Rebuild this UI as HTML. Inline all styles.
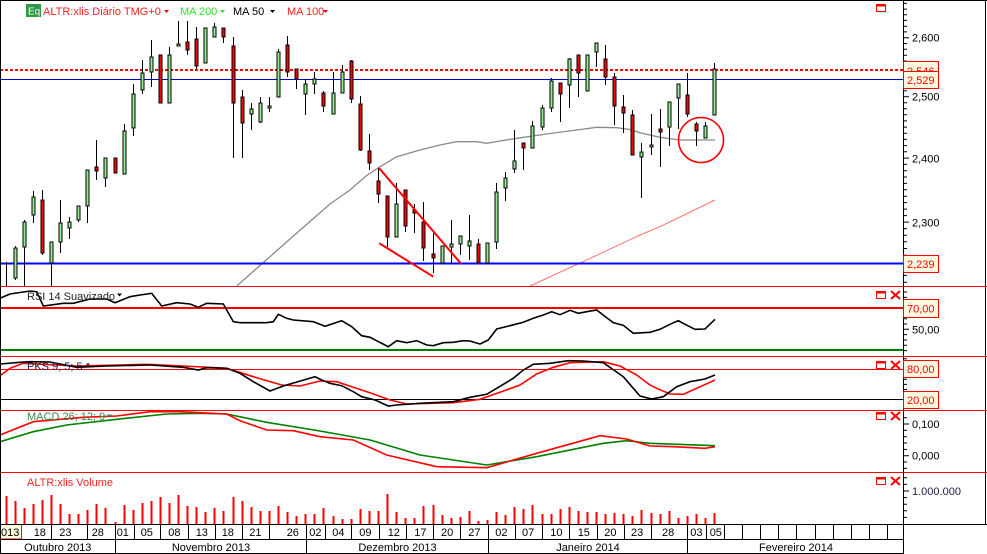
<!DOCTYPE html>
<html><head><meta charset="utf-8">
<style>html,body{margin:0;padding:0;background:#fff}svg{display:block}</style>
</head><body>
<svg xmlns="http://www.w3.org/2000/svg" width="987" height="554" viewBox="0 0 987 554" font-family="'Liberation Sans', Arial, sans-serif" font-size="11">
<rect width="987" height="554" fill="#fff"/>

<!-- MA lines -->
<polyline points="530,286 583,261.7 640,235 660,226.7 715,200" stroke="#ff7070" stroke-width="1" fill="none"/>
<polyline points="236.7,286 260,265.5 290,239 310,221.5 330,204 350,190 366,176 380,166.7 396.7,156.7 420,150 440,145 456.7,141.7 476.7,141.7 486.7,143.3 500,141 516.7,138.3 546.7,134 576.7,130 596.7,127.3 616.7,127.7 630,129.5 640,132.7 660,137.3 680,140 715,140" stroke="#8a8a8a" stroke-width="1.3" fill="none"/>

<!-- horizontal lines -->
<line x1="0" y1="70" x2="903" y2="70" stroke="#f00" stroke-width="2" stroke-dasharray="3,2"/>
<line x1="0" y1="79.5" x2="903" y2="79.5" stroke="#0000cc" stroke-width="1"/>
<line x1="0" y1="263.5" x2="903" y2="263.5" stroke="#0000ff" stroke-width="2"/>

<!-- wicks -->
<path stroke="#000" stroke-width="1" fill="none" d="M6.5 262V286M15.5 246V280M24.5 220V286M33.5 191V223M42.5 190V255M51.5 242V286M60.5 200V253M69.5 217V239M78.5 206V222M87.5 170V223M96.5 140V180M105.5 158V187M115.5 158V173M124.5 124V174M133.5 84V136M142.5 60V94M151.5 40V87M160.5 55V103M169.5 47V103M178.5 21V46M187.5 21V55M196.5 27V69M205.5 28V63M214.5 23V37M223.5 28V43M233.5 37V158M242.5 90V158M251.5 103V130M260.5 97V123M269.5 97V112M278.5 49V97M287.5 36V77M296.5 69V89M305.5 79V115M314.5 72V94M323.5 91V112M333.5 72V114M342.5 65V93M351.5 60V103M360.5 96V151M369.5 134V170M378.5 168V203M387.5 196V247M396.5 183V237M405.5 190V232M414.5 204V233M423.5 202V261M433.5 233V273M442.5 246V263M451.5 220V263M460.5 236V255M469.5 215V260M478.5 239V263M487.5 243V263M496.5 183V249M505.5 172V201M514.5 130V173M523.5 143V170M532.5 121V148M542.5 105V130M551.5 78V112M560.5 83V122M569.5 58V108M578.5 55V97M587.5 55V91M596.5 43V67M605.5 45V85M614.5 73V125M623.5 95V133M632.5 110V155M641.5 143V198M651.5 114V155M660.5 109V167M669.5 102V146M678.5 84V129M687.5 73V117M696.5 122V146M705.5 122V138M714.5 63V115"/>

<!-- green bodies -->
<g fill="#90ee90" stroke="#000" stroke-width="1">
<rect x="14" y="248" width="3" height="30"/><rect x="23" y="222" width="3" height="25"/><rect x="32" y="197" width="3" height="18"/><rect x="50" y="242" width="3" height="21"/><rect x="59" y="223" width="3" height="19"/><rect x="68" y="222" width="3" height="6"/><rect x="77" y="206" width="3" height="14"/><rect x="86" y="170" width="3" height="36"/><rect x="104" y="158" width="3" height="20"/><rect x="123" y="131" width="3" height="43"/><rect x="132" y="94" width="3" height="34"/><rect x="141" y="73" width="3" height="17"/><rect x="150" y="57" width="3" height="15"/><rect x="168" y="55" width="3" height="48"/><rect x="177" y="44" width="3" height="2"/><rect x="204" y="28" width="3" height="35"/><rect x="213" y="27" width="3" height="10"/><rect x="250" y="109" width="3" height="5"/><rect x="259" y="103" width="3" height="19"/><rect x="268" y="106" width="3" height="2"/><rect x="277" y="52" width="3" height="45"/><rect x="304" y="84" width="3" height="10"/><rect x="313" y="79" width="3" height="5"/><rect x="332" y="93" width="3" height="21"/><rect x="341" y="72" width="3" height="21"/><rect x="395" y="204" width="3" height="33"/><rect x="441" y="246" width="3" height="17"/><rect x="450" y="244" width="3" height="3"/><rect x="459" y="236" width="3" height="8"/><rect x="468" y="241" width="3" height="5"/><rect x="486" y="243" width="3" height="20"/><rect x="495" y="192" width="3" height="50"/><rect x="504" y="178" width="3" height="10"/><rect x="513" y="161" width="3" height="8"/><rect x="531" y="126" width="3" height="22"/><rect x="541" y="108" width="3" height="19"/><rect x="550" y="81" width="3" height="27"/><rect x="568" y="59" width="3" height="26"/><rect x="586" y="55" width="3" height="36"/><rect x="595" y="43" width="3" height="9"/><rect x="640" y="152" width="3" height="5"/><rect x="650" y="145" width="3" height="2"/><rect x="668" y="102" width="3" height="25"/><rect x="677" y="84" width="3" height="14"/><rect x="704" y="126" width="3" height="12"/><rect x="713" y="69" width="3" height="46"/>
</g>
<!-- red bodies -->
<g fill="#ff0000" stroke="#000" stroke-width="1">
<rect x="41" y="200" width="3" height="53"/><rect x="95" y="167" width="3" height="4"/><rect x="114" y="158" width="3" height="15"/><rect x="159" y="55" width="3" height="48"/><rect x="186" y="42" width="3" height="8"/><rect x="195" y="39" width="3" height="27"/><rect x="222" y="28" width="3" height="9"/><rect x="232" y="46" width="3" height="57"/><rect x="241" y="97" width="3" height="26"/><rect x="286" y="45" width="3" height="27"/><rect x="295" y="69" width="3" height="10"/><rect x="322" y="93" width="3" height="13"/><rect x="350" y="61" width="3" height="38"/><rect x="359" y="104" width="3" height="46"/><rect x="368" y="151" width="3" height="12"/><rect x="377" y="181" width="3" height="13"/><rect x="386" y="196" width="3" height="41"/><rect x="404" y="190" width="3" height="36"/><rect x="413" y="210" width="3" height="3"/><rect x="422" y="222" width="3" height="26"/><rect x="432" y="254" width="3" height="4"/><rect x="477" y="244" width="3" height="19"/><rect x="522" y="143" width="3" height="5"/><rect x="559" y="83" width="3" height="11"/><rect x="577" y="55" width="3" height="18"/><rect x="604" y="59" width="3" height="18"/><rect x="613" y="77" width="3" height="29"/><rect x="622" y="107" width="3" height="6"/><rect x="631" y="115" width="3" height="40"/><rect x="659" y="129" width="3" height="3"/><rect x="686" y="95" width="3" height="19"/><rect x="695" y="124" width="3" height="7"/>
</g>

<!-- annotations -->
<line x1="379" y1="168" x2="460.7" y2="263.3" stroke="#f00" stroke-width="2"/>
<line x1="379.3" y1="243.3" x2="433.3" y2="276.7" stroke="#f00" stroke-width="2"/>
<circle cx="701" cy="140" r="22.5" fill="none" stroke="#f00" stroke-width="1.6"/>

<!-- legend -->
<rect x="26" y="4" width="15" height="13" fill="#2e9a45"/>
<text x="28" y="14.5" fill="#fff" font-size="10">Eq</text>
<text x="43" y="15" fill="#ff2020">ALTR:xlis Diário TMG+0</text>
<polygon points="164,10 169,10 166.5,13" fill="#f00"/>
<text x="180" y="15" fill="#33dd33">MA 200</text>
<polygon points="220,10 225,10 222.5,13" fill="#33dd33"/>
<text x="233" y="15" fill="#000">MA 50</text>
<polygon points="270,10 275,10 272.5,13" fill="#000"/>
<text x="287" y="15" fill="#ff2020">MA 100</text>
<polygon points="323,10 328,10 325.5,13" fill="#f00"/>

<!-- panel separators -->
<g stroke="#f00" stroke-width="1">
<line x1="0" y1="286.5" x2="987" y2="286.5"/>
<line x1="0" y1="356.5" x2="987" y2="356.5"/>
<line x1="0" y1="410.5" x2="987" y2="410.5"/>
<line x1="0" y1="472.5" x2="987" y2="472.5"/>
</g>

<!-- RSI panel -->
<line x1="0" y1="308" x2="903" y2="308" stroke="#f00" stroke-width="2"/>
<line x1="0" y1="350" x2="903" y2="350" stroke="#008000" stroke-width="2"/>
<polyline fill="none" stroke="#000" stroke-width="1.6" points="0,298.3 10,294 30,291 36.7,291.7 43.3,306 63.3,303.3 73.3,303.3 90,299 106.7,299 115,302.7 130,296.7 140,295 151.7,293.3 161.7,306 176.7,302.7 190,304 198.3,307.3 206.7,303.3 223.3,304 233.3,321.7 240,322.7 266.7,322.7 273.3,321.7 278.3,314.3 286.7,318.3 293.3,320 313.3,321.7 325,326.3 341.7,320.7 351.7,326.7 361.7,335.7 370,337.3 388.3,346.7 396.7,340.7 406.7,342.7 416.7,340.7 426.7,345 433.3,345.7 443.3,342.7 453.3,342.3 463.3,340.7 470,341 480,344 488.3,340 496.7,329 510,325.7 523.3,322.3 533.3,318.3 543.3,315 551.7,311.7 560,314.7 570,310.3 578.3,313.3 586.7,311.7 596.7,310 606.7,317.7 613.3,322.7 623.3,325.3 633.3,333.3 650,332.3 660,329.3 670,324.3 678.3,320.7 685,324.3 695,329.3 705,329 715,319.3"/>
<text x="27" y="300" fill="#222">RSI 14 Suavizado</text>
<polygon points="117,293.5 122,293.5 119.5,296.5" fill="#000"/>

<!-- Stochastic panel -->
<line x1="0" y1="369.5" x2="903" y2="369.5" stroke="#f00" stroke-width="1"/>
<line x1="0" y1="399.5" x2="903" y2="399.5" stroke="#000" stroke-width="1"/>
<polyline fill="none" stroke="#f00" stroke-width="1.6" points="0,375.7 10,368.3 23.3,363.3 76.7,366 146.7,364.3 183.3,366 226.7,368.3 253.3,376.7 281.7,385 300,386 320,381 336.7,381.7 353.3,387.3 370,392.7 390,400 406.7,404 453.3,402.7 480,399.3 500,392.3 520,385 536.7,374 553.3,367.3 570,362.7 603.3,361.7 620,366 636.7,375 650,385 656.7,388.3 670,394 683.3,394.3 715,380"/>
<polyline fill="none" stroke="#000" stroke-width="1.6" points="0,364 20,362.3 30,361.7 50,362 76.7,367.3 106.7,366 150,365 183.3,367.3 198.3,370 206.7,367.7 226.7,368.3 240,373.3 253.3,381.7 270,391 283.3,386 315,376.7 321.7,380 330,383.3 341.7,385.7 353.3,391.7 361.7,396.7 375,400 388.3,406 396.7,405 420,403.3 453.3,401.7 470,397.3 486.7,394.3 496.7,388.3 513.3,378.3 523.3,370 533.3,364.3 550,363.3 568.3,360.7 583.3,361 603.3,362.7 623.3,376.7 633.3,388.3 640,396 651.7,399 663.3,396.7 676.7,386.7 690,381.7 705,379 715,375"/>
<text x="27" y="370" fill="#1a1a4a">PKS 9; 5; 5</text>
<polygon points="86,363.5 90,363.5 88,366.5" fill="#1a1a4a"/>

<!-- MACD panel -->
<polyline fill="none" stroke="#008000" stroke-width="1.6" points="0,441.7 33.3,431.7 66.7,425 116.7,419.3 166.7,414 200,413.3 226.7,414 266.7,422.3 320,431 370,440 420,455 486.7,465 536.7,456.7 603.3,443.3 626.7,440.7 650,443.3 715,445.7"/>
<polyline fill="none" stroke="#f00" stroke-width="1.6" points="0,435 33.3,421.7 83.3,417.3 116.7,416 150,411.7 180,411.7 226.7,414 240,420.7 266.7,430 293.3,430.7 320,436.7 353.3,440 386.7,455 436.7,466.7 486.7,467.7 536.7,453.3 600,435.7 626.7,439 650,446 673.3,446.7 705,448.3 715,446.7"/>
<text x="27" y="420" fill="#3a8a4a">MACD 26; 12; 9</text>
<polygon points="107,414.5 112,414.5 109.5,417.5" fill="#3a8a4a"/>

<!-- Volume panel -->
<path stroke="#f00" stroke-width="2" fill="none" d="M6.5 496V524M15.5 501V524M24.5 508V524M33.5 504V524M42.5 500V524M51.5 495V524M60.5 504V524M69.5 514V524M78.5 514V524M87.5 510V524M96.5 504V524M105.5 508V524M115.5 522V524M124.5 505V524M133.5 510V524M142.5 503V524M151.5 501V524M160.5 497V524M169.5 503V524M178.5 495V524M187.5 506V524M196.5 507V524M205.5 512V524M214.5 508V524M223.5 511V524M233.5 497V524M242.5 501V524M251.5 507V524M260.5 511V524M269.5 511V524M278.5 506V524M287.5 512V524M296.5 516V524M305.5 514V524M314.5 514V524M323.5 508V524M333.5 516V524M342.5 519V524M351.5 519V524M360.5 509V524M369.5 511V524M378.5 511V524M387.5 494V524M396.5 512V524M405.5 518V524M414.5 518V524M423.5 506V524M433.5 505V524M442.5 515V524M451.5 518V524M460.5 517V524M469.5 511V524M478.5 521V524M487.5 520V524M496.5 512V524M505.5 515V524M514.5 507V524M523.5 509V524M532.5 505V524M542.5 514V524M551.5 514V524M560.5 509V524M569.5 507V524M578.5 511V524M587.5 512V524M596.5 512V524M605.5 514V524M614.5 513V524M623.5 514V524M632.5 516V524M641.5 510V524M651.5 513V524M660.5 514V524M669.5 511V524M678.5 518V524M687.5 516V524M696.5 514V524M705.5 518V524M714.5 513V524"/>
<text x="27" y="486" fill="#ff2020">ALTR:xlis Volume</text>

<!-- panel icons -->
<g fill="none" stroke="#f00">
<rect x="876.5" y="4.5" width="9" height="7"/><line x1="876" y1="5.5" x2="886" y2="5.5" stroke-width="2"/>
<rect x="876.5" y="291.5" width="9" height="7"/><line x1="876" y1="292.5" x2="886" y2="292.5" stroke-width="2"/>
<rect x="876.5" y="361.5" width="9" height="7"/><line x1="876" y1="362.5" x2="886" y2="362.5" stroke-width="2"/>
<rect x="876.5" y="412.5" width="9" height="7"/><line x1="876" y1="413.5" x2="886" y2="413.5" stroke-width="2"/>
<rect x="876.5" y="477.5" width="9" height="7"/><line x1="876" y1="478.5" x2="886" y2="478.5" stroke-width="2"/>
<g stroke-width="2">
<path d="M891 291L900 299M900 291L891 299"/>
<path d="M891 361L900 369M900 361L891 369"/>
<path d="M891 412L900 420M900 412L891 420"/>
<path d="M891 477L900 485M900 477L891 485"/>
</g>
</g>

<!-- right axis -->
<line x1="903.5" y1="0" x2="903.5" y2="554" stroke="#000" stroke-width="1"/>
<path stroke="#000" stroke-width="1" fill="none" d="M903 3.4H907M903 9.1H907M903 14.7H907M903 20.4H907M903 26.2H907M903 31.9H907M903 43.5H907M903 49.3H907M903 55.2H907M903 61H907M903 66.9H907M903 72.8H907M903 78.7H907M903 84.7H907M903 90.7H907M903 102.7H907M903 108.8H907M903 114.8H907M903 120.9H907M903 127.1H907M903 133.2H907M903 139.4H907M903 145.6H907M903 151.8H907M903 164.4H907M903 170.7H907M903 177H907M903 183.4H907M903 189.8H907M903 196.2H907M903 202.6H907M903 209.1H907M903 215.6H907M903 228.6H907M903 235.2H907M903 241.8H907M903 248.5H907M903 255.2H907M903 261.9H907M903 268.6H907M903 275.4H907M903 282.2H907
M903 37.7H909M903 96.7H909M903 158.1H909M903 222.1H909
M903 292H907M903 297.4H907M903 302.7H907M903 313.3H907M903 318.7H907M903 324H907M903 334.6H907M903 340H907M903 345.3H907M903 350.6H907M903 329.3H909
M903 358.8H907M903 363.9H907M903 374.1H907M903 379.3H907M903 384.4H907M903 389.5H907M903 394.6H907M903 404.8H907
M903 417.7H907M903 430.3H907M903 436.7H907M903 443H907M903 449.4H907M903 462H907M903 468.4H907M903 424H909M903 455.7H909
M903 477.8H907M903 484.4H907M903 497.6H907M903 504.2H907M903 510.8H907M903 517.4H907M903 491H909"/>
<g fill="#000">
<text x="912" y="41.7">2,600</text>
<text x="912" y="100.7">2,500</text>
<text x="912" y="162.3">2,400</text>
<text x="912" y="226.7">2,300</text>
<text x="912" y="333.3">50,00</text>
<text x="912" y="428">0,100</text>
<text x="912" y="459.7">0,000</text>
<text x="912" y="495" fill="#1a1a4a">1.000.000</text>
</g>
<g fill="#fffbe0" stroke="#f00" stroke-width="1">
<rect x="903.5" y="61.5" width="35" height="17"/>
</g>
<text x="907" y="75" fill="#f00">2,546</text>
<g fill="#fffbe0" stroke="#f00" stroke-width="1">
<rect x="903.5" y="71.5" width="35" height="17"/>
<rect x="903.5" y="255.5" width="35" height="17"/>
<rect x="903.5" y="299.5" width="35" height="18"/>
<rect x="903.5" y="360.5" width="35" height="17"/>
<rect x="903.5" y="391.5" width="35" height="17"/>
</g>
<g fill="#f00">
<text x="907" y="84">2,529</text>
<text x="907" y="268">2,239</text>
<text x="907" y="312.5">70,00</text>
<text x="907" y="373">80,00</text>
<text x="907" y="404">20,00</text>
</g>

<!-- x axis -->
<rect x="0" y="524" width="903" height="30" fill="#fff"/>
<rect x="0.5" y="524.5" width="21" height="14.5" fill="#fffbe0" stroke="#f00"/>
<path stroke="#000" stroke-width="1" fill="none" d="M0 524.5H987M0 539.5H903M0 553.5H903
M51.5 524V539M87.5 524V539M115.5 524V554M134.5 524V539M160.5 524V539M188.5 524V539M215.5 524V539M242.5 524V539M269.5 524V539M306.5 524V554M325.5 524V539M351.5 524V539M379.5 524V539M406.5 524V539M433.5 524V539M460.5 524V539M488.5 524V554M515.5 524V539M542.5 524V539M569.5 524V539M597.5 524V539M624.5 524V539M651.5 524V539M687.5 524V554M706.5 524V539M724.5 524V539M742.5 524V539M760.5 524V539M778.5 524V539M796.5 524V539M815.5 524V539M833.5 524V539M851.5 524V539M869.5 524V539M887.5 524V539"/>
<g fill="#000">
<text x="1" y="536">013</text>
<text x="33.7" y="536">18</text>
<text x="59.3" y="536">23</text>
<text x="91.7" y="536">28</text>
<text x="116.7" y="536">01</text>
<text x="140.7" y="536">05</text>
<text x="168.3" y="536">08</text>
<text x="195.7" y="536">13</text>
<text x="221.7" y="536">18</text>
<text x="249.3" y="536">21</text>
<text x="286.7" y="536">26</text>
<text x="309.3" y="536">02</text>
<text x="332.3" y="536">04</text>
<text x="359.3" y="536">09</text>
<text x="387.7" y="536">12</text>
<text x="414.3" y="536">17</text>
<text x="441" y="536">20</text>
<text x="468.3" y="536">27</text>
<text x="495.3" y="536">02</text>
<text x="522" y="536">07</text>
<text x="550.3" y="536">10</text>
<text x="577.7" y="536">15</text>
<text x="604.3" y="536">20</text>
<text x="631" y="536">23</text>
<text x="662" y="536">28</text>
<text x="690.3" y="536">03</text>
<text x="709.7" y="536">05</text>
<text x="57.8" y="551" text-anchor="middle">Outubro 2013</text>
<text x="211" y="551" text-anchor="middle">Novembro 2013</text>
<text x="397.5" y="551" text-anchor="middle">Dezembro 2013</text>
<text x="588" y="551" text-anchor="middle">Janeiro 2014</text>
<text x="796" y="551" text-anchor="middle">Fevereiro 2014</text>
</g>

<!-- frame -->
<path stroke="#000" stroke-width="1" fill="none" d="M0 0.5H987M0.5 0V554M985.5 0V524"/>
</svg>
</body></html>
